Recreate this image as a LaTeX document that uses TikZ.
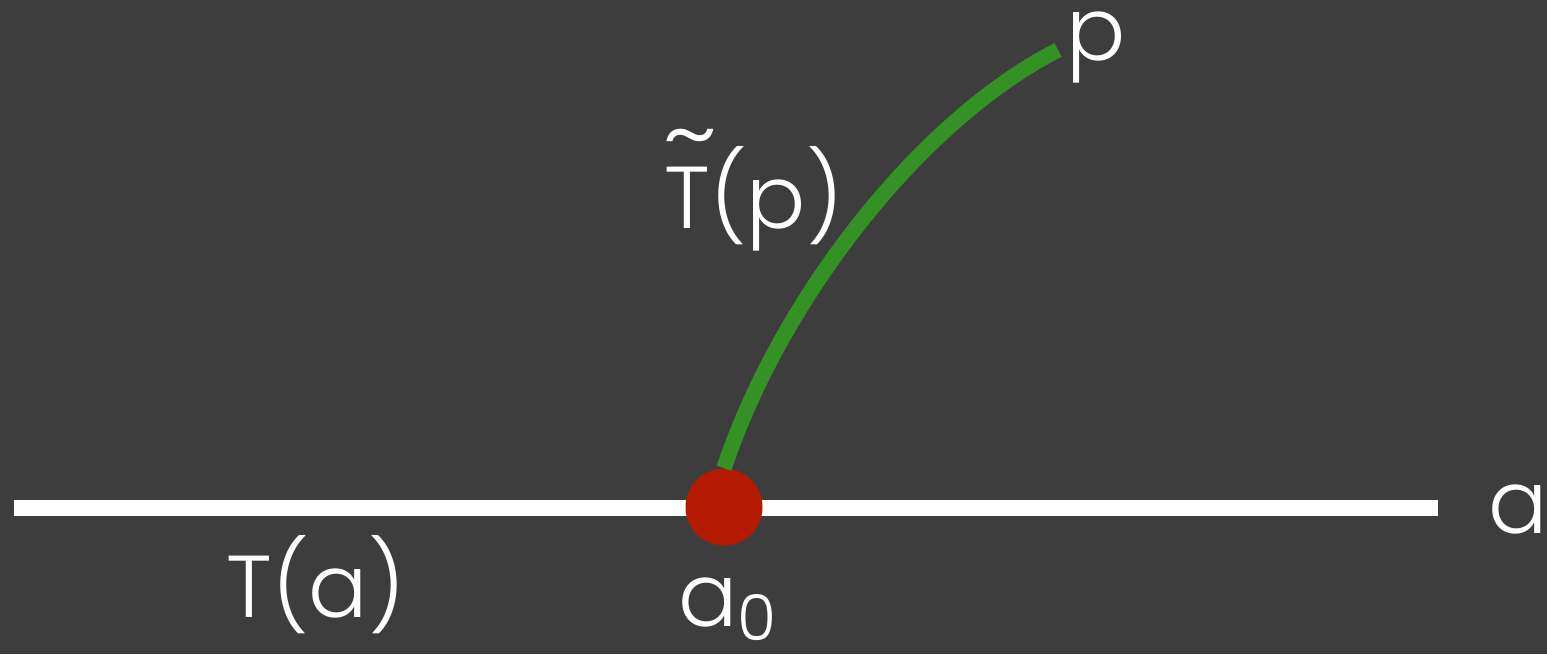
\documentclass[tikz,border=0pt]{standalone}
\usepackage{fontspec}
\newfontfamily\chalkfont{Poppins}[UprightFont=* Light]
\definecolor{board}{RGB}{61,61,61}
\definecolor{dotred}{RGB}{180,26,0}
\definecolor{curvegreen}{RGB}{52,145,36}
\tikzset{
  label/.style={white, anchor=base west, inner sep=0pt, font=\chalkfont\fontsize{50}{54}\selectfont},
}
\begin{document}
\begin{tikzpicture}[x=0.02cm, y=-0.02cm]
  \useasboundingbox (0,0) rectangle (1547,654);
  \fill[board] (0,0) rectangle (1547,654);

  \coordinate (left) at (14,508);
  \coordinate (right) at (1438,508);
  \coordinate (p) at (1058,50);
  \draw[white, line width=0.31cm] (left) -- (right);

  \node[circle, fill=dotred, minimum size=1.54cm, inner sep=0pt] (a0) at (724,507) {};
  \draw[curvegreen, line width=0.31cm]
        (a0.north) .. controls (780,300) and (920,120) .. (p);

  \node[label] (plabel) at (1066,60) {p};
  \node[label] (alabel) at (1488,533) {a};
  \node[label] (Ta) at (226,617) {T(a)};
  \node[label] (a0label) at (678,626)
        {a\raisebox{-8pt}{\fontsize{36}{40}\selectfont 0}};
  \node[label] (Tp) at (664,228)
        {\rlap{\raisebox{0.7em}{\kern-0.02em\scalebox{1.3}[1.1]{\char`\~}}}T(p)};
\end{tikzpicture}
\end{document}
